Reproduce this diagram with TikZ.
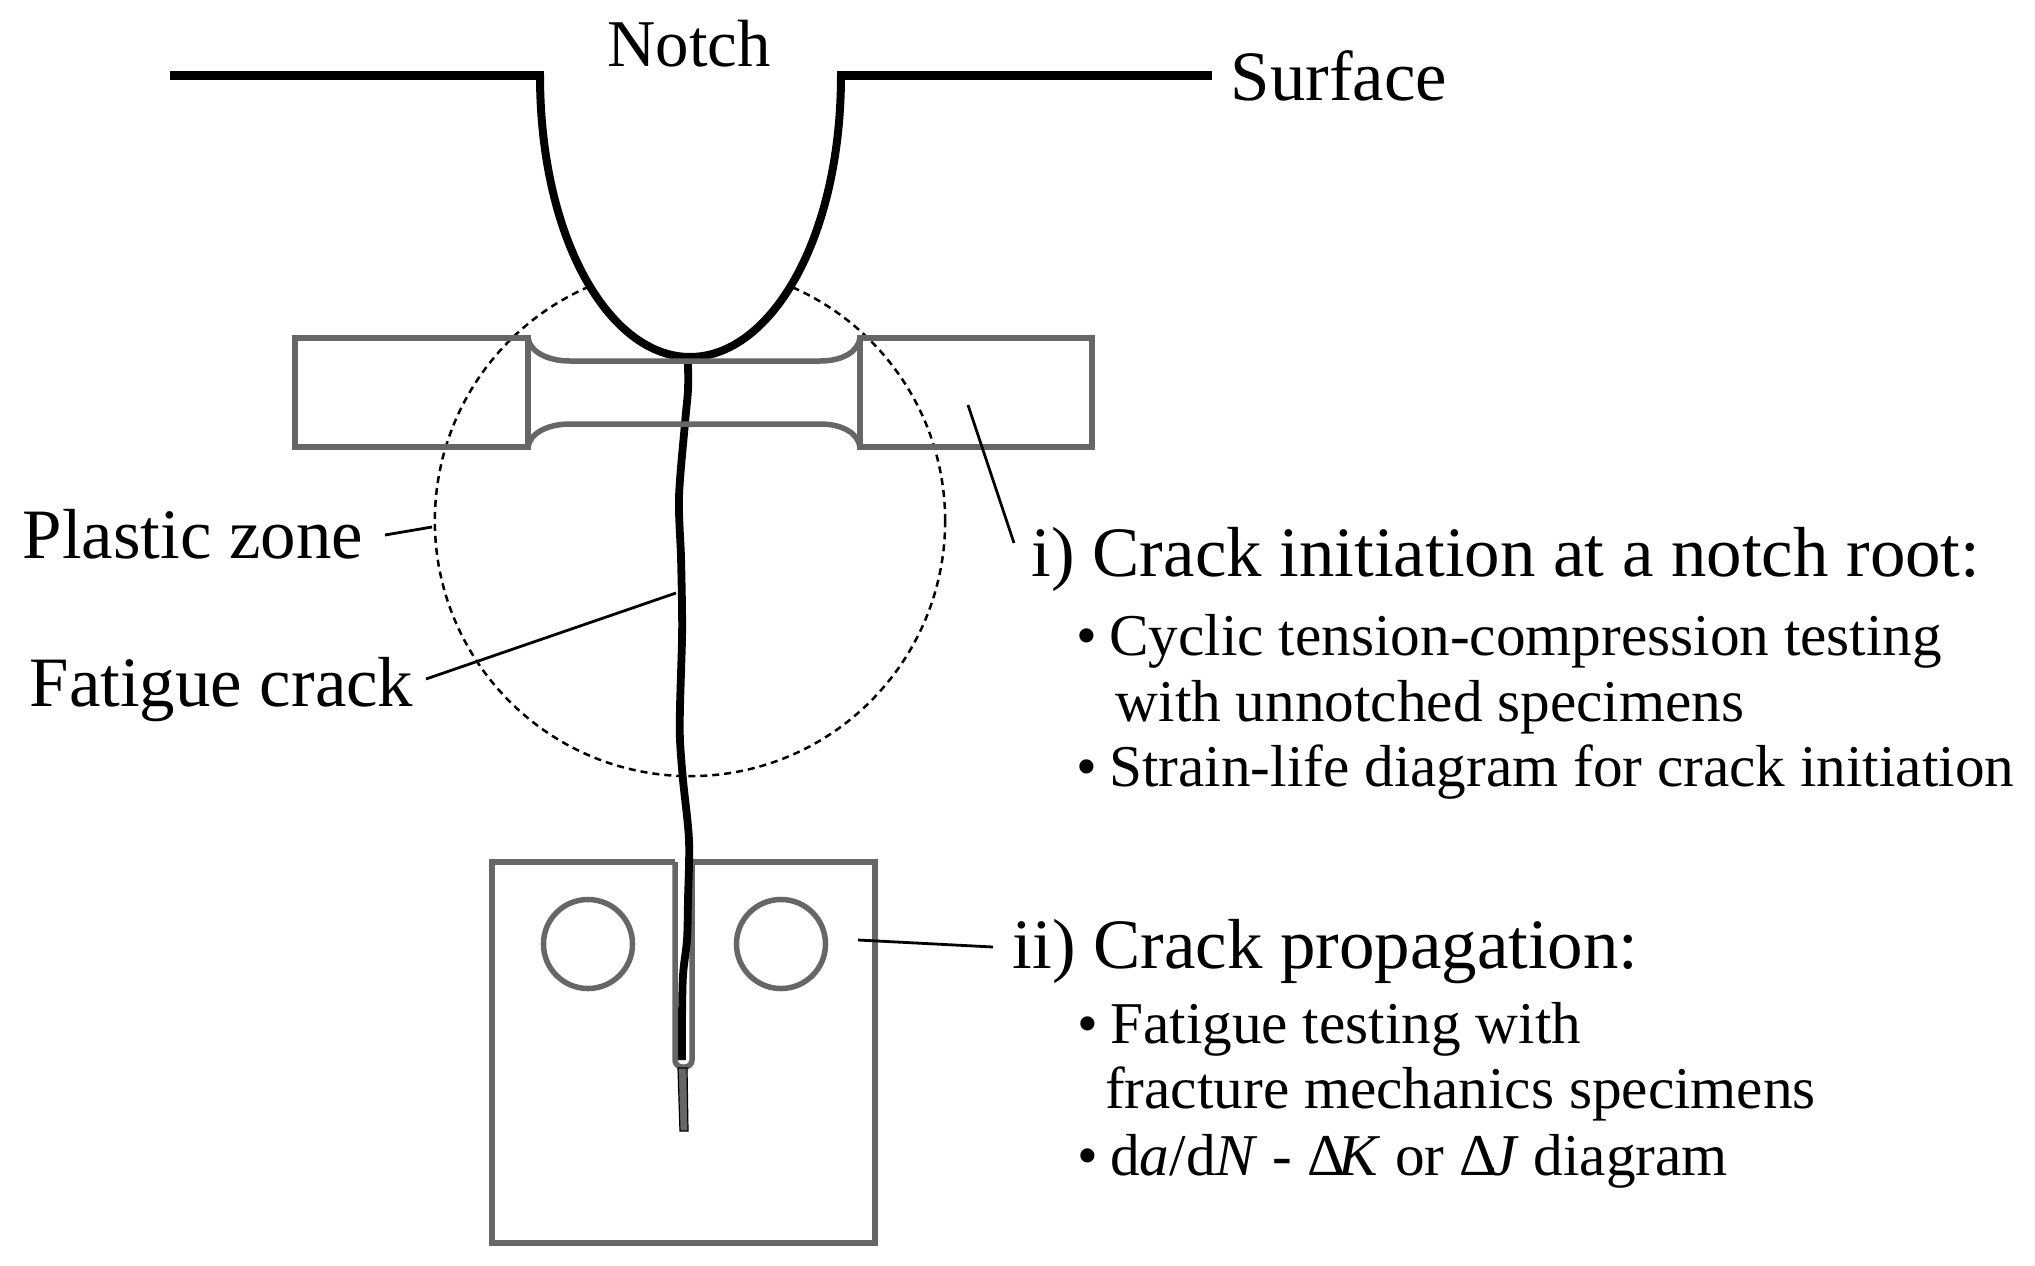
\documentclass[tikz,border=0pt]{standalone}
\usepackage{fontspec}
\setmainfont{Liberation Serif}
\usetikzlibrary{positioning}
\definecolor{specimengray}{HTML}{666666}
\newcommand{\itemdot}{•\hspace{0.2em}}
\newcommand{\deltakern}{Δ\kern-0.12em}
\tikzset{biglabel/.style = {inner sep=0pt, anchor=base west, font=\fontsize{20.15}{24}\selectfont}}
\tikzset{sublabel/.style = {inner sep=0pt, anchor=base west, font=\fontsize{16.85}{20}\selectfont}}
\tikzset{surfaceline/.style = {line width=0.09cm, black}}
\tikzset{notchline/.style = {line width=0.08cm, black}}
\tikzset{crackline/.style = {line width=0.078cm, black}}
\tikzset{specimen/.style = {line width=0.055cm, draw=specimengray}}
\tikzset{hole/.style = {specimen, circle, minimum size=0.89cm, inner sep=0pt}}
\tikzset{zonecircle/.style = {circle, draw=black, line width=0.025cm, dash pattern=on 0.07cm off 0.05cm, minimum size=5.1cm, inner sep=0pt}}
\tikzset{leader/.style = {line width=0.028cm, black}}

\begin{document}
\begin{tikzpicture}[x=0.01cm,y=-0.01cm]
\useasboundingbox (0,0) rectangle (2035,1266);

\node (zone) [zonecircle] at (690,521) {};

\fill [white] (540,75) .. controls (540,240) and (610,357) .. (690,357) .. controls (770,357) and (840,240) .. (841,75) -- cycle;
\draw [surfaceline] (170,75.5) -- (544,75.5);
\draw [surfaceline] (837,75.5) -- (1212,75.5);
\draw [notchline] (540,75) .. controls (540,240) and (610,357) .. (690,357) .. controls (770,357) and (841,240) .. (841,75);

\draw [specimen] (675,862) -- (492,862) -- (492,1243) -- (875,1243) -- (875,862) -- (692,862);
\draw [specimen, rounded corners=0.07cm] (675,862) -- (675,1067) -- (692,1067) -- (692,862);
\node (holeleft) [hole] at (588,944) {};
\node (holeright) [hole] at (781,944) {};

\draw [crackline] plot [smooth] coordinates {(688,364) (688,390) (685,423) (679,497) (681,557) (682,607) (682,640) (680,707) (680,740) (683,780) (689,840) (688,900) (687,940) (683,975) (682,1020) (682,1060)};

\draw [specimen] (528,338) -- (295,338) -- (295,447) -- (528,447) -- cycle;
\draw [specimen] (860,338) -- (1092,338) -- (1092,447) -- (860,447) -- cycle;
\draw [specimen] (528,338) .. controls (530,352) and (548,361) .. (570,361) -- (820,361) .. controls (842,361) and (858,352) .. (860,338);
\draw [specimen] (528,447) .. controls (530,433) and (548,424) .. (570,424) -- (820,424) .. controls (842,424) and (858,433) .. (860,447);

\draw [line width=0.012cm, black, fill=specimengray] (678,1068) -- (687,1068) -- (688,1131) -- (680,1131) -- cycle;

\node (notch) [biglabel, anchor=base, font=\fontsize{19}{24}\selectfont] at (689,66) {Notch};
\node (surface) [biglabel] at (1230,100) {Surface};
\node (plastic) [biglabel] at (22,558) {Plastic zone};
\node (fatigue) [biglabel] at (29,706) {Fatigue crack};

\node (initiation) [biglabel] at (1031,576) {i) Crack initiation at a notch root:};
\node (cyclic) [sublabel, below right=0.79cm and 0.45cm of initiation.base west, anchor=base west] {\itemdot Cyclic tension-compression testing};
\node (unnotched) [sublabel, below right=0.66cm and 0.39cm of cyclic.base west, anchor=base west] {with unnotched specimens};
\node (strain) [sublabel, below left=0.65cm and 0.39cm of unnotched.base west, anchor=base west] {\itemdot Strain-life diagram for crack initiation};

\node (propagation) [biglabel] at (1012,968) {ii) Crack propagation:};
\node (testing) [sublabel, below right=0.75cm and 0.65cm of propagation.base west, anchor=base west] {\itemdot Fatigue testing with};
\node (fracture) [sublabel, below right=0.65cm and 0.274cm of testing.base west, anchor=base west] {fracture mechanics specimens};
\node (diagram) [sublabel, below left=0.67cm and 0.274cm of fracture.base west, anchor=base west] {\itemdot d\textit{a}/d\textit{N} - \deltakern\textit{K} or \deltakern\textit{J} diagram};

\coordinate (plastictail) at (385,535);
\coordinate (plastictip) at (432,527);
\coordinate (fatiguetail) at (426,679);
\coordinate (fatiguetip) at (676,593);
\coordinate (initiationtail) at (1014,543);
\coordinate (initiationtip) at (968,405);
\coordinate (propagationtail) at (993,947);
\coordinate (propagationtip) at (858,940);

\draw [leader] (plastictail) -- (plastictip);
\draw [leader] (fatiguetail) -- (fatiguetip);
\draw [leader] (initiationtail) -- (initiationtip);
\draw [leader] (propagationtail) -- (propagationtip);
\end{tikzpicture}
\end{document}
